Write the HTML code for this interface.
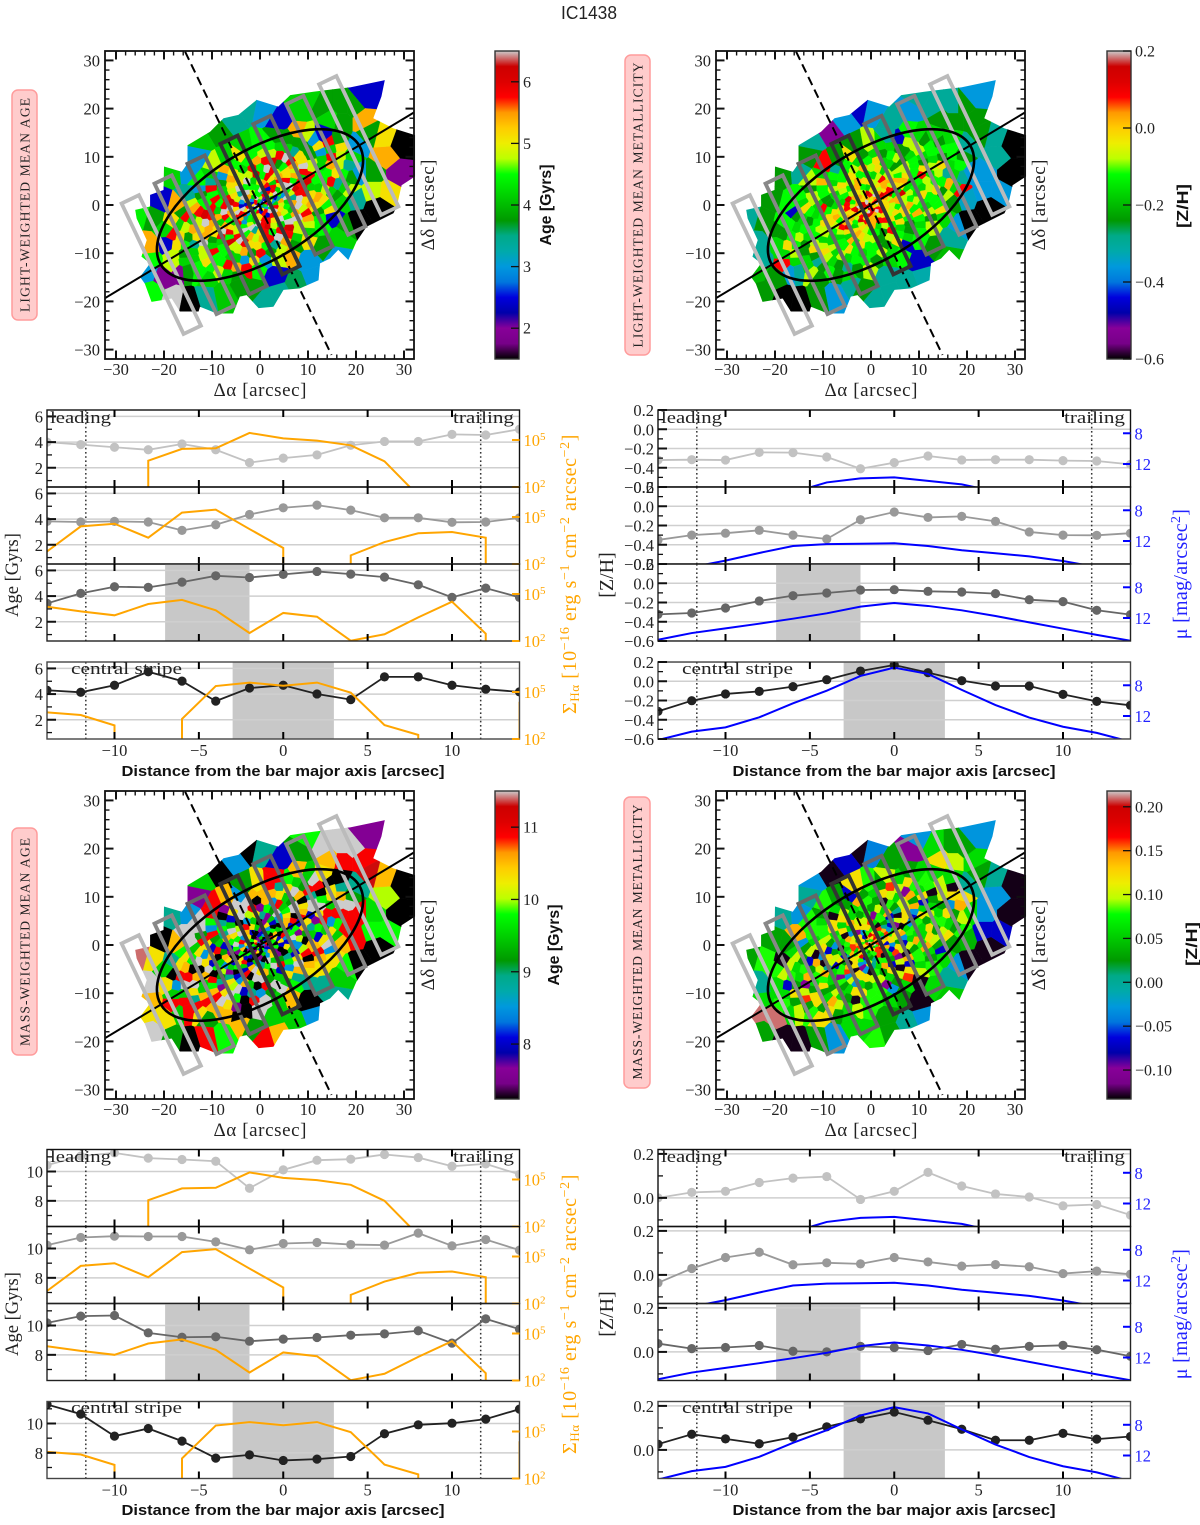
<!DOCTYPE html>
<html lang="en">
<head>
<meta charset="utf-8">
<title>IC1438</title>
<style>
html,body{margin:0;padding:0;background:#fff}
svg{display:block}
text{font-family:"Liberation Serif",serif;fill:#222}
.bold{font-family:"Liberation Sans",sans-serif;font-weight:bold;fill:#111}
.sans{font-family:"Liberation Sans",sans-serif}
</style>
</head>
<body>
<svg id="figure" xmlns="http://www.w3.org/2000/svg" width="1200" height="1525" viewBox="0 0 1200 1525">
<defs id="defs"></defs>
<g id="plots"></g>

<text class="sans" x="589" y="19" font-size="18" text-anchor="middle" textLength="56" lengthAdjust="spacingAndGlyphs">IC1438</text>

<g>
<rect x="12" y="90" width="25" height="230" rx="6" fill="#ffcccc" stroke="#ff9c9c" stroke-width="1.5"/>
<text transform="translate(29.5,205) rotate(-90)" font-size="13.5" text-anchor="middle" textLength="214" lengthAdjust="spacing">LIGHT-WEIGHTED MEAN AGE</text>
<rect x="625" y="55" width="25" height="300" rx="6" fill="#ffcccc" stroke="#ff9c9c" stroke-width="1.5"/>
<text transform="translate(642.5,205) rotate(-90)" font-size="13.5" text-anchor="middle" textLength="285" lengthAdjust="spacing">LIGHT-WEIGHTED MEAN METALLICITY</text>
<rect x="12" y="828" width="25" height="227" rx="6" fill="#ffcccc" stroke="#ff9c9c" stroke-width="1.5"/>
<text transform="translate(29.5,942) rotate(-90)" font-size="13.5" text-anchor="middle" textLength="208" lengthAdjust="spacing">MASS-WEIGHTED MEAN AGE</text>
<rect x="624" y="797" width="26" height="291" rx="6" fill="#ffcccc" stroke="#ff9c9c" stroke-width="1.5"/>
<text transform="translate(642,942) rotate(-90)" font-size="13.5" text-anchor="middle" textLength="275" lengthAdjust="spacing">MASS-WEIGHTED MEAN METALLICITY</text>
</g>

<g>
<text x="260" y="396" font-size="19" text-anchor="middle" textLength="93" lengthAdjust="spacing">Δα [arcsec]</text>
<text x="871" y="396" font-size="19" text-anchor="middle" textLength="93" lengthAdjust="spacing">Δα [arcsec]</text>
<text x="260" y="1136" font-size="19" text-anchor="middle" textLength="93" lengthAdjust="spacing">Δα [arcsec]</text>
<text x="871" y="1136" font-size="19" text-anchor="middle" textLength="93" lengthAdjust="spacing">Δα [arcsec]</text>
<text transform="translate(434,205) rotate(-90)" font-size="19" text-anchor="middle" textLength="91" lengthAdjust="spacing">Δδ [arcsec]</text>
<text transform="translate(1045,205) rotate(-90)" font-size="19" text-anchor="middle" textLength="91" lengthAdjust="spacing">Δδ [arcsec]</text>
<text transform="translate(434,945) rotate(-90)" font-size="19" text-anchor="middle" textLength="91" lengthAdjust="spacing">Δδ [arcsec]</text>
<text transform="translate(1045,945) rotate(-90)" font-size="19" text-anchor="middle" textLength="91" lengthAdjust="spacing">Δδ [arcsec]</text>
<text class="bold" transform="translate(551,205) rotate(-90)" font-size="16" text-anchor="middle" textLength="81" lengthAdjust="spacingAndGlyphs">Age [Gyrs]</text>
<text class="bold" transform="translate(1188,206) rotate(-90)" font-size="16" text-anchor="middle" textLength="44" lengthAdjust="spacingAndGlyphs">[Z/H]</text>
<text class="bold" transform="translate(559,945) rotate(-90)" font-size="16" text-anchor="middle" textLength="81" lengthAdjust="spacingAndGlyphs">Age [Gyrs]</text>
<text class="bold" transform="translate(1197,944) rotate(-90)" font-size="16" text-anchor="middle" textLength="44" lengthAdjust="spacingAndGlyphs">[Z/H]</text>
</g>

<g>
<text x="50" y="423" font-size="17" textLength="61" lengthAdjust="spacingAndGlyphs">leading</text>
<text x="453" y="423" font-size="17" textLength="61" lengthAdjust="spacingAndGlyphs">trailing</text>
<text x="71" y="674" font-size="17" textLength="111" lengthAdjust="spacingAndGlyphs">central stripe</text>
<text x="661" y="423" font-size="17" textLength="61" lengthAdjust="spacingAndGlyphs">leading</text>
<text x="1064" y="423" font-size="17" textLength="61" lengthAdjust="spacingAndGlyphs">trailing</text>
<text x="682" y="674" font-size="17" textLength="111" lengthAdjust="spacingAndGlyphs">central stripe</text>
<text x="50" y="1162" font-size="17" textLength="61" lengthAdjust="spacingAndGlyphs">leading</text>
<text x="453" y="1162" font-size="17" textLength="61" lengthAdjust="spacingAndGlyphs">trailing</text>
<text x="71" y="1413" font-size="17" textLength="111" lengthAdjust="spacingAndGlyphs">central stripe</text>
<text x="661" y="1162" font-size="17" textLength="61" lengthAdjust="spacingAndGlyphs">leading</text>
<text x="1064" y="1162" font-size="17" textLength="61" lengthAdjust="spacingAndGlyphs">trailing</text>
<text x="682" y="1413" font-size="17" textLength="111" lengthAdjust="spacingAndGlyphs">central stripe</text>

<text class="bold" x="283" y="776" font-size="15" text-anchor="middle" textLength="323" lengthAdjust="spacingAndGlyphs">Distance from the bar major axis [arcsec]</text>
<text class="bold" x="894" y="776" font-size="15" text-anchor="middle" textLength="323" lengthAdjust="spacingAndGlyphs">Distance from the bar major axis [arcsec]</text>
<text class="bold" x="283" y="1515" font-size="15" text-anchor="middle" textLength="323" lengthAdjust="spacingAndGlyphs">Distance from the bar major axis [arcsec]</text>
<text class="bold" x="894" y="1515" font-size="15" text-anchor="middle" textLength="323" lengthAdjust="spacingAndGlyphs">Distance from the bar major axis [arcsec]</text>

<text transform="translate(18,575) rotate(-90)" font-size="18.5" text-anchor="middle">Age [Gyrs]</text>
<text transform="translate(18,1314) rotate(-90)" font-size="18.5" text-anchor="middle">Age [Gyrs]</text>
<text transform="translate(613,575) rotate(-90)" font-size="20" text-anchor="middle">[Z/H]</text>
<text transform="translate(613,1314) rotate(-90)" font-size="20" text-anchor="middle">[Z/H]</text>

<text transform="translate(576,574) rotate(-90)" font-size="20" letter-spacing="0.6" text-anchor="middle" style="fill:#ffa500">Σ<tspan font-size="13" dy="3">Hα</tspan><tspan dy="-3"> [10</tspan><tspan font-size="14" dy="-7">−16</tspan><tspan dy="7"> erg s</tspan><tspan font-size="14" dy="-7">−1</tspan><tspan dy="7"> cm</tspan><tspan font-size="14" dy="-7">−2</tspan><tspan dy="7"> arcsec</tspan><tspan font-size="14" dy="-7">−2</tspan><tspan dy="7">]</tspan></text>
<text transform="translate(576,1314) rotate(-90)" font-size="20" letter-spacing="0.6" text-anchor="middle" style="fill:#ffa500">Σ<tspan font-size="13" dy="3">Hα</tspan><tspan dy="-3"> [10</tspan><tspan font-size="14" dy="-7">−16</tspan><tspan dy="7"> erg s</tspan><tspan font-size="14" dy="-7">−1</tspan><tspan dy="7"> cm</tspan><tspan font-size="14" dy="-7">−2</tspan><tspan dy="7"> arcsec</tspan><tspan font-size="14" dy="-7">−2</tspan><tspan dy="7">]</tspan></text>
<text transform="translate(1187,574) rotate(-90)" font-size="20" letter-spacing="0.3" text-anchor="middle" style="fill:#2222ff">μ [mag/arcsec<tspan font-size="14" dy="-7">2</tspan><tspan dy="7">]</tspan></text>
<text transform="translate(1187,1314) rotate(-90)" font-size="20" letter-spacing="0.3" text-anchor="middle" style="fill:#2222ff">μ [mag/arcsec<tspan font-size="14" dy="-7">2</tspan><tspan dy="7">]</tspan></text>
</g>
</svg>

<script>
// ---------- profile data ----------
const distances = [-14,-12,-10,-8,-6,-4,-2,0,2,4,6,8,10,12,14];
const shadedRanges = [null,null,[-7,-2],[-3,3]];
const stripeMarkers = [-11.7,11.7];
const distanceTicks = [-10,-5,0,5,10];

const lightAge1 = [4.0,3.8,3.6,3.4,3.85,3.4,2.4,2.75,3.0,3.75,4.05,4.05,4.6,4.55,5.0];
const lightAge2 = [3.82,3.77,3.82,3.77,3.12,3.56,4.36,4.88,5.09,4.7,4.1,4.1,3.75,3.77,4.1];
const lightAge3 = [3.43,4.21,4.73,4.68,5.09,5.58,5.45,5.69,5.92,5.71,5.48,4.88,3.9,4.62,3.9];
const lightAge4 = [4.3,4.14,4.69,5.74,5.01,3.45,4.47,4.69,4.01,3.57,5.34,5.34,4.69,4.38,4.17];

const lightZ1 = [-0.32,-0.316,-0.32,-0.24,-0.243,-0.288,-0.41,-0.347,-0.278,-0.319,-0.316,-0.316,-0.326,-0.33,-0.365];
const lightZ2 = [-0.35,-0.30,-0.28,-0.25,-0.30,-0.34,-0.14,-0.06,-0.116,-0.105,-0.157,-0.267,-0.30,-0.302,-0.28];
const lightZ3 = [-0.323,-0.309,-0.257,-0.184,-0.129,-0.101,-0.07,-0.067,-0.084,-0.091,-0.108,-0.171,-0.191,-0.281,-0.326];
const lightZ4 = [-0.313,-0.202,-0.132,-0.105,-0.056,0.016,0.106,0.169,0.089,0.006,-0.049,-0.049,-0.136,-0.209,-0.25];

const massAge1 = [10.43,11.05,11.27,10.91,10.82,10.7,8.86,10.11,10.77,10.84,11.16,10.95,10.36,10.52,9.8];
const massAge2 = [10.23,10.75,10.84,10.82,10.82,10.45,9.91,10.34,10.41,10.27,10.23,11.05,10.18,10.61,9.89];
const massAge3 = [10.18,10.64,10.68,9.5,9.2,9.23,8.93,9.07,9.18,9.34,9.43,9.64,8.8,10.45,9.75];
const massAge4 = [11.3,10.64,9.14,9.66,8.8,7.64,7.86,7.48,7.57,7.75,9.3,9.91,10.02,10.3,10.98];

const massZ1 = [0.0,0.025,0.03,0.07,0.09,0.097,-0.007,0.03,0.116,0.054,0.018,0.004,-0.036,-0.03,-0.078];
const massZ2 = [-0.036,0.029,0.079,0.103,0.046,0.055,0.05,0.079,0.059,0.04,0.047,0.037,0.006,0.017,0.003];
const massZ3 = [0.038,0.015,0.02,0.029,0.003,0,0.025,0.02,0.006,0.034,0.012,0.025,0.03,0.01,-0.02];
const massZ4 = [0.026,0.071,0.05,0.028,0.058,0.105,0.141,0.172,0.135,0.094,0.044,0.044,0.075,0.049,0.061];

// log10 of H-alpha surface brightness; null where undetected
const halpha1 = [null,null,null,3.68,4.43,4.47,5.45,5.1,4.96,4.66,3.64,1.45,null,null,null];
const halpha2 = [2.8,4.4,4.57,3.68,5.28,5.47,4.23,3.02,null,2.55,3.4,3.96,4.04,3.68,null];
const halpha3 = [4.19,3.89,3.64,4.36,4.62,3.96,2.51,3.79,3.55,2.02,2.43,3.51,4.51,2.47,null];
const halpha4 = [3.7,3.53,2.87,null,3.28,5.38,5.6,5.4,5.6,4.96,2.89,2.26,null,null,4.38];

const mu1 = [17,17,17,17,15.7,14.4,13.87,13.74,14.2,14.65,15.6,17,17,17,17];
const mu2 = [16,15.4,14.56,13.56,12.65,12.4,12.35,12.3,12.65,13.2,13.6,14,14.6,15.4,16];
const mu3 = [14.83,13.96,13.35,12.74,12.09,11.39,10.52,10.04,10.43,11,11.74,12.57,13.39,14.2,14.96];
const mu4 = [15.13,14.04,13.48,12.17,10.35,8.7,6.78,5.7,6.52,8.6,10.57,12.2,13.4,14.2,15.35];

const ageTicksLight = [2,4,6];
const ageMinorLight = [1,3,5];
const zTicksLight = [-0.6,-0.4,-0.2,0,0.2];
const zMinorLight = [-0.5,-0.3,-0.1,0.1];
const ageTicksMass = [8,10];
const ageMinorMass = [7,9,11];
const zTicksMass = [0,0.2];
const zMinorMass = [-0.1,0.1];
const halphaTicks = [2,5];
const muTicks = [8,12];

// ---------- map data (arcsec, shared Voronoi bins; values in colour-bar units) ----------
const mapTicks = [-30,-20,-10,0,10,20,30];
const mapMinorTicks = [-28,-26,-24,-22,-18,-16,-14,-12,-8,-6,-4,-2,2,4,6,8,12,14,16,18,22,24,26,28];
const stripeOffsets = [24,-24,16,-16,8,-8,0];
const galaxyX = [26,25.3,23.6,27.8,32.3,32.3,29.5,28.5,27.8,22.2,20.1,18.4,16.3,14.6,12.5,12.2,8.3,4.9,2.8,-0.3,-2.8,-4.2,-5.6,-9,-12.5,-12.8,-16.7,-18.4,-22.6,-24,-25,-22.9,-24.7,-23.6,-25.7,-26,-22.9,-22.9,-20.1,-20,-16.3,-15.1,-15.1,-10.4,-7.6,-4.5,-0.7,3.8,6.3,11.1,16.7,18.8];
const galaxyY = [25.9,22.5,18,15.9,14.5,5.9,4.1,-0.3,-1.7,-4.5,-7.6,-11.4,-9.3,-11.1,-12.1,-15.6,-17.3,-17.6,-21.1,-21.4,-18.7,-19,-22.5,-22.5,-21.1,-22.1,-22.1,-19.4,-20.1,-16.3,-14.9,-12.1,-10.7,-7.3,-2.8,-1,-0.3,2.1,3.1,8,6.9,8.6,12.4,15.2,18,18.7,21.8,20.4,22.8,23.5,24.2,24.4];
const outerCellX = [21.9,17,13.2,8.3,9.7,4.2,0.7,-2.8,-5.9,-9,-12.5,-13.2,-18.4,-14.9,-20.8,-24.7,-22.2,-22.9,-22.6,-23.3,-22.2,-18.1,-14.6,-11.1,-7.6,-4.2,0.7,4.2,7.6,11.1,16,10.1,3.1,20.1,24.7,18.1,23.6,26.7,28.8,29.5,26,25.7,23.6,21.5,22.9,17,19.4,19.8,14.6,20.5,19.4,16.7,13.2,-19.4,-1.4,-16.7,-20.1];
const outerCellY = [22.5,20.4,20.4,19.7,22.1,17.6,19.7,20.4,18,15.6,13.5,10,6.6,6.9,0.7,-1.7,-2.4,-8.6,-11.4,-13.8,-18,-19.4,-20.1,-19,-18.3,-16.3,-19.4,-18.3,-16.3,-14.9,-10.7,-11.4,-14.5,-3.8,-0.3,-4.5,3.1,2.8,6.6,12.8,10,14.2,6.6,17.6,14.9,17.6,20.4,12.1,18,6.6,1.7,-6.6,-8.6,-5.2,-17.6,-13.5,-14.9];

const lightAgeOuter = [2.4,3.8,3.8,4.2,4.2,2.4,3,3.4,3.4,3.8,4.1,3,4.2,3,2.4,4.4,3.8,5.4,4.5,3,4.5,6.5,1.5,3.4,4.1,3.8,3.4,3.4,3.6,3,3,3,2.4,1.5,1.5,3.8,4.8,5.1,1.9,1.5,5.4,5.1,3.8,5.4,3.8,3.8,3.8,3,4.2,3,3.4,4.2,3.8,4.2,3.8,1.9,1.9];
const lightZOuter = [-.36,-.3,-.3,-.36,-.3,-.3,-.36,-.46,-.36,-.53,-.3,-.24,-.24,-.3,-.24,-.3,-.24,-.3,-.3,-.2,-.24,-.6,-.6,-.24,-.36,-.3,-.3,-.3,-.3,-.32,-.2,-.46,-.3,-.6,-.6,-.36,-.36,-.36,-.6,-.6,-.3,-.3,-.36,-.24,-.24,-.24,-.24,-.3,-.24,-.36,-.34,-.3,-.24,-.24,-.24,-.36,-.24];
const massAgeOuter = [7.6,11.5,11.5,9.2,9.8,8,8.9,7.2,8.5,7.2,9.5,7.6,8.9,8.5,7.2,11.4,10.3,11.5,10.5,10.3,11.5,9.2,7.2,10.9,9.8,10.5,10.9,10.5,9.5,8.5,8.9,7.2,9.5,7.2,7.2,9.8,9.8,9.8,7.2,7.2,10,10.5,9.6,10.9,11.3,10.9,11.5,8.9,10.5,10.9,10.9,9.5,8.9,9.5,9.2,9.5,10.3];
const massZOuter = [-.03,.03,.06,-.1,-.03,.03,-.04,-.13,-.07,-.13,-.03,0,0,-.03,.03,.03,.08,0,.06,.21,.03,-.13,-.13,.03,-.03,.06,.08,.03,0,-.03,.05,-.13,.03,-.13,-.13,-.03,-.07,-.07,-.13,-.13,-.03,0,-.03,.06,.03,.1,.03,0,.12,.06,.04,0,.06,.08,.06,.06,.21];

// inner bins: values listed from the nucleus outward (each entry covers a few adjacent radial ranks)
const lightAgeInner = [2.4,4.5,5.8,3,5.1,2.4,4.2,6.5,3.4,5.8,2.4,4.5,5.1,1.9,5.8,3,4.8,2.4,6.5,4.2,5.8,3,5.1,4.5,2.4,5.8,4.2,6.5,3.4,5.1,5.8,4.5,2.4,5.4,4.2,6.5,3,5.8,4.8,5.1,
5.8,6.5,5.1,4.5,5.8,4.2,6.5,5.4,4.8,5.8,4.5,6.5,5.1,3.4,5.8,4.8,6.1,5.4,4.5,6.5,5.8,5.1,4.2,5.8,4.8,6.5,5.4,4.5,5.8,5.1,6.5,4.2,5.8,4.8,5.4,6.1,4.5,5.1,5.8,6.5,4.2,5.4,4.8,5.8,3.8,5.1,6.5,4.5,5.8,5.4,4.8,6.1,4.2,5.1,5.8,4.5,6.5,5.4,4.8,5.8,
4.5,5.1,4.2,5.8,4.8,3.8,5.4,4.5,3.4,5.1,4.2,4.8,5.8,3.8,4.5,5.4,4.2,3,4.8,5.1,3.8,4.5,5.8,4.2,3.4,5.1,4.5,4.8,3.8,5.4,4.2,4.5,3,5.1,4.8,3.8,4.2,5.8,4.5,3.4,4.8,4.2,5.1,3.8,4.5,2.4,4.2,5.4,4.8,3.8];
const lightZInner = [.2,.08,.14,-.02,.2,.08,.02,.14,-.02,.2,.08,-.08,.14,.02,.2,.08,-.02,.14,.02,.08,.2,-.02,.14,.08,.02,
.02,-.02,.08,-.08,.02,-.02,.14,-.08,.02,.08,-.02,-.12,.02,-.08,.08,-.02,.02,-.08,-.16,.08,.02,-.02,-.08,.14,.02,-.12,-.02,.08,-.08,.02,-.02,-.16,-.08,.02,-.02,
-.08,-.12,-.02,-.16,-.08,-.12,-.02,-.16,-.12,-.08,.02,-.12,-.16,-.08,-.02,-.12,-.24,-.08,-.12,-.02,-.16,-.08,-.12,.08,-.16,-.02,-.12,-.08,-.24,-.12,-.02,-.16,-.08,-.12,.02,-.16,-.08,-.12,-.24,-.02,-.12,-.16,-.08,-.12,-.02,-.16,-.12,-.08,-.24,-.12,
-.16,-.24,-.12,-.08,-.16,-.02,-.24,-.12,-.16,-.3,-.08,-.12,-.24,-.16,.02,-.12,-.24,-.16,-.08,-.3,-.12,-.16,-.24,-.02,-.12,-.46,-.16,-.24,-.08,-.12,-.16,-.24,-.12,-.3,-.08,-.16,-.24,-.12,.08,-.16];
const massAgeInner = [7.2,8,9.8,7.6,10.3,7.2,8.5,9.5,7.2,10.9,8,7.6,9.8,7.2,10.3,8,9.5,7.2,7.6,10.9,8.5,9.8,7.2,8,10.3,9.5,7.2,10.5,8,7.6,9.8,7.2,8.5,10.3,9.5,7.6,10.9,7.2,8,9.8,10.3,8.5,7.2,9.5,11.5,8,10.5,7.6,9.8,8.9,
10.3,8,9.5,11.5,10.5,7.2,9.8,8.5,10.9,9.2,7.6,10.3,9.5,8,11.5,10,7.2,8.9,10.5,9.8,8.5,10.9,9.2,11.5,8,10.3,9.5,7.2,10.5,9.8,8.9,11.5,10,8,10.9,9.5,10.3,7.6,9.2,10.5,11.5,8.5,9.8,7.2,10.9,10.3,9.5,8,11.5,10.5,
10.9,10.5,11.5,10.3,9.5,8.9,7.2,10.9,11.5,10.3,9.8,10.5,8.5,10.9,11.5,9.5,10.3,7.2,10.5,10.9,9.2,11.5,10.3,8.9,9.8,10.9,10.5,11.5,9.5,7.6,10.3,10.9,11.5,8.5,10.5,9.8,10.9,7.2,10.3,11.5,9.5,10.5,8.9,10.9,11.5,10.3,9.2,10.5,10.9,7.2];
const massZInner = [.16,.12,.18,.14,.08,.16,.22,.12,.06,.16,.14,.08,.12,.18,.03,.16,.12,.08,.14,-.03,.16,.12,.06,.18,.14,.08,-.07,.16,.12,.03,.14,.08,.16,.12,-.03,
.08,.12,0,-.03,.06,-.13,.1,-.07,.12,.08,.03,-.1,.06,.14,0,.12,-.13,.08,-.03,.1,.16,.06,-.07,.12,.03,.08,-.13,.1,-.03,.14,.06,.12,-.1,.08,0,.1,-.07,.06,.12,-.13,.08,.03,.14,-.03,.1,
.06,.1,.03,.12,.08,.06,.14,.03,.1,.08,.06,-.13,.12,.03,.08,.1,.06,.12,-.07,.03,.08,.14,.06,.1,.03,.12,.08,.06,-.1,.1,.03,.12,.08,.06,.14,.03,.1,-.13,.06,.12,.08,.03,.1,.16,.06,.08,.03,-.03,.12,.06,.1,.03,.08,-.07,.12,.06,.03,.1,.08,.14,.06,.03,-.13,.1,.08,.06,.12,.03,.08,.06];

const lightAgeBarTicks = [2,3,4,5,6];
const lightZBarTicks = [-0.6,-0.4,-0.2,0,0.2];
const massAgeBarTicks = [8,9,10,11];
const massZBarTicks = [-0.10,-0.05,0,0.05,0.10,0.15,0.20];

const spectral = [[0,0,0],[.4667,0,.5333],[.5333,0,.6],[0,0,.6667],[0,0,.8667],[0,.4667,.8667],[0,.6,.8667],[0,.6667,.6667],[0,.6667,.5333],[0,.6,0],[0,.7333,0],[0,.8667,0],[0,1,0],[.7333,1,0],[.9333,.9333,0],[1,.8,0],[1,.6,0],[1,0,0],[.8667,0,0],[.8,0,0],[.8,.8,.8]];

// ---------- helpers ----------
const NS = 'http://www.w3.org/2000/svg';
const plots = document.getElementById('plots');
const defs = document.getElementById('defs');
function mk(tag, attrs, parent){
  const el = document.createElementNS(NS, tag);
  for (const k in attrs) el.setAttribute(k, attrs[k]);
  parent.appendChild(el);
  return el;
}
function rgbOf(c){ return 'rgb(' + Math.round(c[0]*255) + ',' + Math.round(c[1]*255) + ',' + Math.round(c[2]*255) + ')'; }
function colormap(f){
  f = Math.max(0, Math.min(1, f));
  const p = f * (spectral.length - 1), i = Math.min(spectral.length - 2, Math.floor(p)), t = p - i;
  return rgbOf([0,1,2].map(k => spectral[i][k] * (1 - t) + spectral[i + 1][k] * t));
}
function minus(s){ return String(s).replace('-', '\u2212'); }

// spectral gradient for colour bars
const grad = mk('linearGradient', {id:'spectral-gradient', x1:0, y1:1, x2:0, y2:0}, defs);
spectral.forEach(function(c, i){
  mk('stop', {offset: i / (spectral.length - 1), 'stop-color': rgbOf(c)}, grad);
});

// ---------- Voronoi layout ----------
const seedX = outerCellX.slice(), seedY = outerCellY.slice();
const innerCount = 420;
const golden = 2.39996, barAngle = 31 * Math.PI / 180;
for (let i = 0; i < innerCount; i++) {
  const r = (i + 0.6) / innerCount, th = i * golden;
  const u = 22 * r * Math.cos(th), v = 12 * r * Math.sin(th);
  seedX.push(u * Math.cos(barAngle) - v * Math.sin(barAngle));
  seedY.push(u * Math.sin(barAngle) + v * Math.cos(barAngle));
}
function clipPoly(poly, mx, my, nx, ny){
  const out = [];
  for (let i = 0; i < poly.length; i++) {
    const a = poly[i], b = poly[(i + 1) % poly.length];
    const da = (a[0] - mx) * nx + (a[1] - my) * ny, db = (b[0] - mx) * nx + (b[1] - my) * ny;
    if (da <= 0) out.push(a);
    if ((da < 0 && db > 0) || (da > 0 && db < 0)) {
      const t = da / (da - db);
      out.push([a[0] + t * (b[0] - a[0]), a[1] + t * (b[1] - a[1])]);
    }
  }
  return out;
}
const cellPolys = seedX.map(function(sx, i){
  let poly = [[-34,-34],[34,-34],[34,34],[-34,34]];
  for (let j = 0; j < seedX.length && poly.length; j++) {
    if (j === i) continue;
    poly = clipPoly(poly, (sx + seedX[j]) / 2, (seedY[i] + seedY[j]) / 2, seedX[j] - sx, seedY[j] - seedY[i]);
  }
  return poly;
});

// ---------- maps ----------
function drawMap(id, cx, cy, barX, outer, inner, vmin, vmax, barTicks, barFmt){
  const sx = v => cx + 4.8 * v, sy = v => cy - 4.82 * v;
  const left = cx - 155, top = cy - 154, w = 309, h = 308;
  const g = mk('g', {}, plots);
  
  

  const clip = mk('clipPath', {id: 'galaxy-' + id}, defs);
  mk('polygon', {points: galaxyX.map((x, i) => sx(x) + ',' + sy(galaxyY[i])).join(' ')}, clip);
  const axisClip = mk('clipPath', {id: 'axis-' + id}, defs);
  mk('rect', {x: left, y: top, width: w, height: h}, axisClip);

  const cellsG = mk('g', {'clip-path': 'url(#galaxy-' + id + ')'}, g);
  
  
  cellPolys.forEach(function(poly, i){
    if (!poly.length) return;
    const n = outer.length;
    const value = i < n ? outer[i] : inner[Math.floor((i - n) * inner.length / innerCount)];
    const col = colormap((value - vmin) / (vmax - vmin));
    const p = mk('polygon', {points: poly.map(q => sx(q[0]).toFixed(1) + ',' + sy(q[1]).toFixed(1)).join(' '), fill: col, stroke: col, 'stroke-width': 0.4}, cellsG);
    
    
  });

  const overlay = mk('g', {'clip-path': 'url(#axis-' + id + ')'}, g);
  
  
  const major = mk('line', {x1: sx(-32.25), y1: sy(-19.3), x2: sx(32.25), y2: sy(19.3), stroke: '#000', 'stroke-width': 2}, overlay);
  
  
  const minor = mk('line', {x1: sx(-15.6), y1: sy(31.8), x2: sx(14.9), y2: sy(-31.1), stroke: '#000', 'stroke-width': 2, 'stroke-dasharray': '9 5'}, overlay);
  
  

  const wa = 25.5 * Math.PI / 180, la = -64.5 * Math.PI / 180;
  stripeOffsets.forEach(function(d){
    const c0 = d * Math.cos(barAngle), c1 = d * Math.sin(barAngle);
    const corners = [[-2,-15],[2,-15],[2,15],[-2,15]].map(function(q){
      return sx(c0 + q[0] * Math.cos(wa) + q[1] * Math.cos(la)) + ',' + sy(c1 + q[0] * Math.sin(wa) + q[1] * Math.sin(la));
    });
    const ad = Math.abs(d);
    const col = ad === 24 ? '#bbbbbb' : ad === 16 ? '#888888' : ad === 8 ? '#666666' : '#333333';
    const s = mk('polygon', {points: corners.join(' '), fill: 'none', stroke: col, 'stroke-width': 3.8}, overlay);
    
    
  });
  const ell = mk('ellipse', {cx: cx, cy: cy, rx: 24.1 * 4.8, ry: 11.4 * 4.8, transform: 'rotate(-31 ' + cx + ' ' + cy + ')', fill: 'none', stroke: '#000', 'stroke-width': 2.6}, overlay);
  
  

  const frame = mk('rect', {x: left, y: top, width: w, height: h, fill: 'none', stroke: '#111', 'stroke-width': 1.8}, g);
  
  

  const ticks = mk('g', {stroke: '#111'}, g);
  
  
  function tickSet(v, len, wd){
    const px = sx(v), py = sy(v);
    [[px, top, px, top + len],[px, top + h, px, top + h - len],[left, py, left + len, py],[left + w, py, left + w - len, py]].forEach(function(c){
      const t = mk('line', {x1: c[0], y1: c[1], x2: c[2], y2: c[3], 'stroke-width': wd}, ticks);
      
      
    });
  }
  mapTicks.forEach(v => tickSet(v, 8.5, 2));
  mapMinorTicks.forEach(v => tickSet(v, 4.5, 1.4));
  mapTicks.forEach(function(v){
    const xl = mk('text', {x: sx(v), y: top + h + 16, 'font-size': 16.5, 'text-anchor': 'middle'}, g);
    xl.textContent = minus(v);
    
    
    const yl = mk('text', {x: left - 5, y: sy(v) + 6, 'font-size': 16.5, 'text-anchor': 'end'}, g);
    yl.textContent = minus(v);
    
    
  });

  // colour bar
  const bar = mk('rect', {x: barX, y: top, width: 24, height: h, fill: 'url(#spectral-gradient)', stroke: '#333', 'stroke-width': 1.4}, g);
  
  
  barTicks.forEach(function(v){
    const y = top + h - (v - vmin) / (vmax - vmin) * h;
    const t = mk('line', {x1: barX + 16, y1: y, x2: barX + 24, y2: y, stroke: '#111', 'stroke-width': 1.3}, g);
    
    
    const l = mk('text', {x: barX + 28, y: y + 5.5, 'font-size': 16}, g);
    l.textContent = minus(barFmt(v));
    
    
  });
}

// ---------- profile panels ----------
let clipCounter = 0;
function drawProfile(top, x0, idx, ys, rightKind, rightVals, ylim, yTicks, yMinor, yFmt, showX, spineCol){
  const H = 77, W = 472.5;
  const sx = v => x0 + (v + 14) * W / 28;
  const sy = v => top + H - (v - ylim[0]) / (ylim[1] - ylim[0]) * H;
  const g = mk('g', {}, plots);
  
  
  const cid = 'panel-clip-' + (clipCounter++);
  const cp = mk('clipPath', {id: cid}, defs);
  mk('rect', {x: x0, y: top, width: W, height: H}, cp);

  const inner = mk('g', {'clip-path': 'url(#' + cid + ')'}, g);
  if (shadedRanges[idx]) {
    const r = shadedRanges[idx];
    const sh = mk('rect', {x: sx(r[0]), y: top, width: sx(r[1]) - sx(r[0]), height: H, fill: '#c8c8c8'}, inner);
    
    
  }
  yTicks.forEach(function(v){
    const gl = mk('line', {x1: x0, y1: sy(v), x2: x0 + W, y2: sy(v), stroke: '#cfcfcf', 'stroke-width': 1.5}, inner);
    
    
  });
  stripeMarkers.forEach(function(v){
    const dl = mk('line', {x1: sx(v), y1: top, x2: sx(v), y2: top + H, stroke: '#333', 'stroke-width': 1.5, 'stroke-dasharray': '1.6 2.6'}, inner);
    
    
  });

  const colors = ['#c2c2c2','#999999','#666666','#222222'];
  const lineCol = colors[idx];
  const line = mk('polyline', {points: ys.map((v, i) => sx(distances[i]) + ',' + sy(v)).join(' '), fill: 'none', stroke: lineCol, 'stroke-width': 1.8}, inner);
  
  
  ys.forEach(function(v, i){
    const c = mk('circle', {cx: sx(distances[i]), cy: sy(v), r: 4.6, fill: lineCol}, inner);
    
    
  });

  // twin axis series
  const ry = rightKind === 'halpha'
    ? (v => top + H - (v - 2) * 15.67)
    : (v => top + 54 + (v - 12) * 7.68);
  const rCol = rightKind === 'halpha' ? '#ffa500' : '#0000ff';
  let d = '', open = false;
  rightVals.forEach(function(v, i){
    if (v === null) { open = false; return; }
    const x = sx(distances[i]), y = ry(v);
    if (!open) {
      d += (i > 0 ? 'M' + x + ' ' + (top + H + 3) + 'L' : 'M') + x + ' ' + y;
      open = true;
    } else {
      d += 'L' + x + ' ' + y;
    }
    if (i < rightVals.length - 1 && rightVals[i + 1] === null) d += 'L' + x + ' ' + (top + H + 3);
  });
  const twin = mk('path', {d: d, fill: 'none', stroke: rCol, 'stroke-width': 2}, inner);
  
  

  // spine
  const spine = mk('rect', {x: x0, y: top, width: W, height: H, fill: 'none', stroke: spineCol, 'stroke-width': 1.4}, g);
  
  

  // ticks
  distanceTicks.forEach(function(v){
    [[top, top + 7],[top + H, top + H - 7]].forEach(function(c){
      const t = mk('line', {x1: sx(v), y1: c[0], x2: sx(v), y2: c[1], stroke: '#000', 'stroke-width': 2}, g);
      
      
    });
    if (showX) {
      const l = mk('text', {x: sx(v), y: top + H + 17, 'font-size': 16.5, 'text-anchor': 'middle'}, g);
      l.textContent = minus(v);
      
      
    }
  });
  yTicks.forEach(function(v){
    const t = mk('line', {x1: x0, y1: sy(v), x2: x0 + 9, y2: sy(v), stroke: '#111', 'stroke-width': 2}, g);
    
    
    const l = mk('text', {x: x0 - 4, y: sy(v) + 6, 'font-size': 16.5, 'text-anchor': 'end'}, g);
    l.textContent = minus(yFmt(v));
    
    
  });
  yMinor.forEach(function(v){
    const t = mk('line', {x1: x0, y1: sy(v), x2: x0 + 5, y2: sy(v), stroke: '#111', 'stroke-width': 1.3}, g);
    
    
  });
  const rTicks = rightKind === 'halpha' ? halphaTicks : muTicks;
  rTicks.forEach(function(v){
    const y = ry(v);
    const t = mk('line', {x1: x0 + W - 7.5, y1: y, x2: x0 + W, y2: y, stroke: rCol, 'stroke-width': 2}, g);
    
    
    const l = mk('text', {x: x0 + W + 4, y: y + 6, 'font-size': 16.5, style: 'fill:' + (rightKind === 'halpha' ? '#ffa500' : '#2222ff')}, g);
    if (rightKind === 'halpha') {
      l.textContent = '10';
      const sup = mk('tspan', {dy: -6, 'font-size': 11}, l);
      sup.textContent = String(v);
    } else {
      l.textContent = String(v);
    }
    
    
  });
}

// ---------- build ----------
const fmtInt = v => String(v);
const fmt1 = v => v.toFixed(1);
const fmt2 = v => v.toFixed(2);

drawMap('a', 260, 205, 495, lightAgeOuter, lightAgeInner, 1.5, 6.5, lightAgeBarTicks, fmtInt);
drawMap('b', 871, 205, 1107, lightZOuter, lightZInner, -0.6, 0.2, lightZBarTicks, fmt1);
drawMap('c', 260, 945, 495, massAgeOuter, massAgeInner, 7.24, 11.5, massAgeBarTicks, fmtInt);
drawMap('d', 871, 945, 1107, massZOuter, massZInner, -0.133, 0.218, massZBarTicks, fmt2);

const upperTops = [410,487,564,662];
const lowerTops = [1149.5,1226.5,1303.5,1401.5];
const spineCols = ['#111','#111','#222','#444'];
[lightAge1,lightAge2,lightAge3,lightAge4].forEach(function(s, i){
  drawProfile(upperTops[i], 47, i, s, 'halpha', [halpha1,halpha2,halpha3,halpha4][i], [0.5,6.5], ageTicksLight, ageMinorLight, fmtInt, i === 3, spineCols[i]);
});
[lightZ1,lightZ2,lightZ3,lightZ4].forEach(function(s, i){
  drawProfile(upperTops[i], 658, i, s, 'mu', [mu1,mu2,mu3,mu4][i], [-0.6,0.2], zTicksLight, zMinorLight, fmt1, i === 3, spineCols[i]);
});
[massAge1,massAge2,massAge3,massAge4].forEach(function(s, i){
  drawProfile(lowerTops[i], 47, i, s, 'halpha', [halpha1,halpha2,halpha3,halpha4][i], [6.25,11.5], ageTicksMass, ageMinorMass, fmtInt, i === 3, spineCols[i]);
});
[massZ1,massZ2,massZ3,massZ4].forEach(function(s, i){
  drawProfile(lowerTops[i], 658, i, s, 'mu', [mu1,mu2,mu3,mu4][i], [-0.13,0.22], zTicksMass, zMinorMass, fmt1, i === 3, spineCols[i]);
});
</script>
</body>
</html>
